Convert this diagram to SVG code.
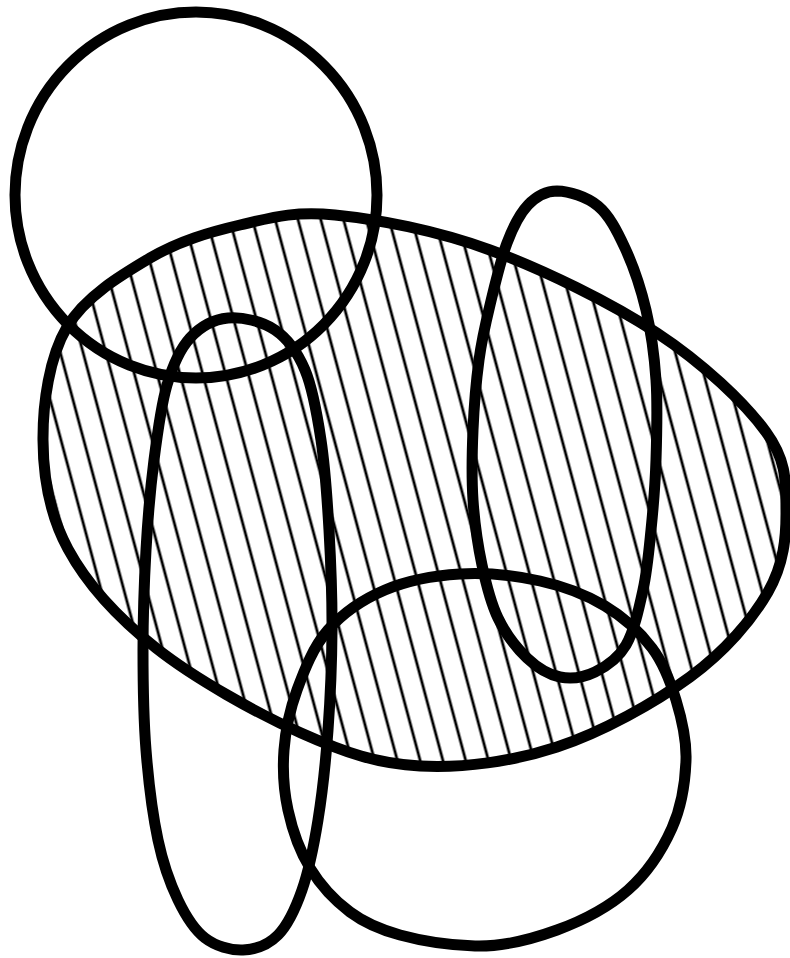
<svg xmlns="http://www.w3.org/2000/svg" width="790" height="958" viewBox="0 0 790 958">
  <defs>
    <pattern id="hatch" patternUnits="userSpaceOnUse" width="22" height="20" patternTransform="rotate(-15)">
      <line x1="11" y1="-2" x2="11" y2="22" stroke="#000" stroke-width="2.8"/>
    </pattern>
  </defs>
  <style>
    .outline { fill: none; stroke: #000; stroke-width: 11; stroke-linejoin: round; }
    .hatched { fill: url(#hatch); stroke: none; }
  </style>
  <rect width="790" height="958" fill="#fff"/>
  <g id="big-ellipse-fill">
    <path class="hatched" d="M335,215 C376.7,219.2 436.3,230.3 490,250 C543.7,269.7 611,302.7 657,333 C703,363.3 744.5,402.5 766,432 C787.5,461.5 785.7,483.3 786,510 C786.3,536.7 784,564.2 768,592 C752,619.8 725.2,651.2 690,677 C654.8,702.8 602,732.2 557,747 C512,761.8 462.7,768.3 420,766 C377.3,763.7 345,752.7 301,733 C257,713.3 194.8,678.7 156,648 C117.2,617.3 86.8,583.7 68,549 C49.2,514.3 43.2,477 43,440 C42.8,403 49.2,357.3 67,327 C84.8,296.7 121.2,275 150,258 C178.8,241 209.2,232.2 240,225 C270.8,217.8 293.3,210.8 335,215 Z"/>
  </g>
  <g id="big-ellipse">
    <path class="outline" d="M335,215 C376.7,219.2 436.3,230.3 490,250 C543.7,269.7 611,302.7 657,333 C703,363.3 744.5,402.5 766,432 C787.5,461.5 785.7,483.3 786,510 C786.3,536.7 784,564.2 768,592 C752,619.8 725.2,651.2 690,677 C654.8,702.8 602,732.2 557,747 C512,761.8 462.7,768.3 420,766 C377.3,763.7 345,752.7 301,733 C257,713.3 194.8,678.7 156,648 C117.2,617.3 86.8,583.7 68,549 C49.2,514.3 43.2,477 43,440 C42.8,403 49.2,357.3 67,327 C84.8,296.7 121.2,275 150,258 C178.8,241 209.2,232.2 240,225 C270.8,217.8 293.3,210.8 335,215 Z"/>
  </g>
  <g id="top-circle">
    <ellipse class="outline" cx="196" cy="195" rx="181" ry="183"/>
  </g>
  <g id="left-loop">
    <path class="outline" d="M228,318 C242.2,316.7 262.2,321.3 275,330 C287.8,338.7 297.3,351.7 305,370 C312.7,388.3 317,413.3 321,440 C325,466.7 327.2,498.3 329,530 C330.8,561.7 332.2,596.7 332,630 C331.8,663.3 330.3,698.3 328,730 C325.7,761.7 322.3,793.3 318,820 C313.7,846.7 308.7,870.8 302,890 C295.3,909.2 287.8,925 278,935 C268.2,945 255.2,949.5 243,950 C230.8,950.5 215.8,946.3 205,938 C194.2,929.7 185.8,916.3 178,900 C170.2,883.7 163.3,865 158,840 C152.7,815 148.5,781.7 146,750 C143.5,718.3 143,683.3 143,650 C143,616.7 144.2,581.7 146,550 C147.8,518.3 150.5,487.5 154,460 C157.5,432.5 161,405.3 167,385 C173,364.7 179.8,349.2 190,338 C200.2,326.8 213.8,319.3 228,318 Z"/>
  </g>
  <g id="right-loop">
    <path class="outline" d="M557,191 C568.7,191.2 586.7,196.5 598,206 C609.3,215.5 617,230.7 625,248 C633,265.3 640.8,288 646,310 C651.2,332 654.3,355 656,380 C657.7,405 656.8,435 656,460 C655.2,485 653.2,508.3 651,530 C648.8,551.7 647.2,570.8 643,590 C638.8,609.2 634,631.3 626,645 C618,658.7 606,666.7 595,672 C584,677.3 571.3,679.3 560,677 C548.7,674.7 537.3,667.8 527,658 C516.7,648.2 505.5,633.5 498,618 C490.5,602.5 486.2,584.7 482,565 C477.8,545.3 474.5,522.5 473,500 C471.5,477.5 472,453.3 473,430 C474,406.7 476.2,380.8 479,360 C481.8,339.2 485.3,324.5 490,305 C494.7,285.5 500.7,259.7 507,243 C513.3,226.3 519.7,213.7 528,205 C536.3,196.3 545.3,191.2 557,191 Z"/>
  </g>
  <g id="bottom-circle">
    <path class="outline" d="M460,574 C485.8,572.5 515.8,575.7 540,581 C564.2,586.3 586.3,594.8 605,606 C623.7,617.2 640.2,632.3 652,648 C663.8,663.7 670.3,681.3 676,700 C681.7,718.7 686.7,738.7 686,760 C685.3,781.3 681.7,806.3 672,828 C662.3,849.7 647.2,873 628,890 C608.8,907 582.5,920.7 557,930 C531.5,939.3 501.2,946.8 475,946 C448.8,945.2 420.8,940.7 400,935 C379.2,929.3 365,923.2 350,912 C335,900.8 320.3,885 310,868 C299.7,851 292.3,829.7 288,810 C283.7,790.3 282.5,770 284,750 C285.5,730 289.7,710 297,690 C304.3,670 313.3,646.7 328,630 C342.7,613.3 363,599.3 385,590 C407,580.7 434.2,575.5 460,574 Z"/>
  </g>
  <g id="connectors"></g>
</svg>
